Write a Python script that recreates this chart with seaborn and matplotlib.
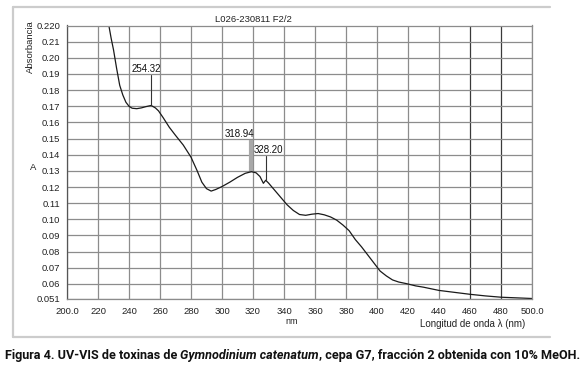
import numpy as np
import pandas as pd
import matplotlib
matplotlib.use("Agg")
import matplotlib.pyplot as plt
from matplotlib.lines import Line2D
import seaborn as sns

# Spectrum (wavelength in nm, absorbance)
wavelength = [227, 228.5, 230, 232, 234, 236, 238, 240, 242, 245, 248, 251, 254.3,
              257, 259, 262, 266, 270, 275, 280, 284, 287, 290, 293, 296, 300,
              305, 310, 315, 319, 322, 324.5, 326.7, 328.2, 330, 334, 338, 342,
              346, 350, 354, 358, 362, 366, 370, 374, 378, 382, 386, 390, 394,
              398, 402, 406, 410, 414, 419, 425, 430, 440, 450, 460, 470, 480,
              490, 500]
absorbance = [0.220, 0.212, 0.205, 0.1935, 0.183, 0.177, 0.1725, 0.170, 0.1688,
              0.1685, 0.169, 0.1698, 0.1705, 0.169, 0.1672, 0.163, 0.157, 0.152,
              0.146, 0.1385, 0.130, 0.123, 0.119, 0.1175, 0.1185, 0.1203, 0.123,
              0.126, 0.1285, 0.1295, 0.1288, 0.1265, 0.1223, 0.1242, 0.1225,
              0.118, 0.1135, 0.109, 0.1055, 0.103, 0.1025, 0.1032, 0.1036, 0.1028,
              0.1015, 0.0995, 0.0965, 0.093, 0.0875, 0.083, 0.078, 0.073, 0.068,
              0.065, 0.0625, 0.0612, 0.0602, 0.0588, 0.058, 0.056, 0.0548, 0.0536,
              0.0526, 0.0518, 0.0514, 0.051]

x_ticks = [200, 220, 240, 260, 280, 300, 320, 340, 360, 380, 400, 420, 440, 460, 480, 500]
x_labels = ["200.0", "220", "240", "260", "280", "300", "320", "340", "360", "380",
            "400", "420", "440", "460", "480", "500.0"]
y_ticks = [0.051, 0.06, 0.07, 0.08, 0.09, 0.10, 0.11, 0.12, 0.13, 0.14, 0.15,
           0.16, 0.17, 0.18, 0.19, 0.20, 0.21, 0.220]
y_labels = ["0.051", "0.06", "0.07", "0.08", "0.09", "0.10", "0.11", "0.12", "0.13",
            "0.14", "0.15", "0.16", "0.17", "0.18", "0.19", "0.20", "0.21", "0.220"]

# Peak markers: label, wavelength, text x, text bottom y, line top, line bottom
peak_labels = ["254.32", "318.94", "328.20"]
peak_x = [254.32, 318.94, 328.20]
peak_text_x = [251.0, 311.5, 330.2]
peak_text_y = [0.1900, 0.1500, 0.1400]
peak_line_top = [0.1895, 0.1490, 0.1392]
peak_line_bottom = [0.1705, 0.1300, 0.1243]

sns.set_style("white")
plt.rcParams['font.family'] = ['Liberation Sans', 'DejaVu Sans']

fig = plt.figure(figsize=(5.8, 3.67), dpi=100)
ax = fig.add_axes([67 / 580, 1 - 298.5 / 367, 465 / 580, 273 / 367])

df = pd.DataFrame({"nm": wavelength, "A": absorbance})
sns.lineplot(data=df, x="nm", y="A", ax=ax, color="#1a1a1a", linewidth=0.9)

ax.set_xlim(200, 500)
ax.set_ylim(0.051, 0.220)
ax.set_xticks(x_ticks)
ax.set_xticklabels(x_labels, fontsize=6.8, color="#222222")
ax.set_yticks(y_ticks)
ax.set_yticklabels(y_labels, fontsize=6.8, color="#222222")
ax.tick_params(axis="both", length=0)
ax.tick_params(axis="y", pad=5)
ax.tick_params(axis="x", pad=6)
ax.set_xlabel("")
ax.set_ylabel("")

ax.grid(True, color="#8c8c8c", linewidth=0.9)
for tick, gl in zip(x_ticks, ax.xaxis.get_gridlines()):
    if tick in (460, 480):
        gl.set_color("#3a3a3a")
for sp in ax.spines.values():
    sp.set_color("#8c8c8c")
    sp.set_linewidth(0.9)
ax.spines["left"].set_color("#555555")

# Peak annotations
for i, lab in enumerate(peak_labels):
    if lab == "318.94":
        ax.plot([peak_x[i], peak_x[i]], [peak_line_bottom[i], peak_line_top[i]],
                color="#a8a8a8", linewidth=3, solid_capstyle="butt", zorder=3)
    else:
        ax.plot([peak_x[i], peak_x[i]], [peak_line_bottom[i], peak_line_top[i]],
                color="#333333", linewidth=0.8, zorder=3)
    ax.text(peak_text_x[i], peak_text_y[i], lab, ha="center", va="bottom",
            fontsize=7, color="#111111", zorder=4)

ax.text(320, 1.006, "L026-230811 F2/2", transform=ax.get_xaxis_transform(),
        ha="center", va="bottom", fontsize=6.8, color="#222222")

fig.text(30 / 580, 1 - 46.7 / 367, "Absorbancia", rotation=90, ha="center",
         va="center", fontsize=6.8, color="#222222")
fig.text(33.5 / 580, 1 - 167.7 / 367, "A", ha="center", va="center",
         fontsize=6.8, color="#222222")
fig.text(291.3 / 580, 1 - 321.7 / 367, "nm", ha="center", va="center",
         fontsize=6.5, color="#222222")
fig.text(525 / 580, 1 - 324 / 367, "Longitud de onda \u03bb (nm)", ha="right",
         va="center", fontsize=7, color="#222222")

# Light frame around the chart (left, top, bottom)
frame_kw = dict(color="#cccccc", linewidth=1.6, transform=fig.transFigure)
fig.add_artist(Line2D([13 / 580, 13 / 580], [1 - 7 / 367, 1 - 337 / 367], **frame_kw))
fig.add_artist(Line2D([13 / 580, 550 / 580], [1 - 7 / 367, 1 - 7 / 367], **frame_kw))
fig.add_artist(Line2D([13 / 580, 550 / 580], [1 - 337 / 367, 1 - 337 / 367], **frame_kw))

# Caption with an italic species name, laid out piece by piece
caption_parts = ["Figura 4. UV-VIS de toxinas de ", "Gymnodinium catenatum",
                 ", cepa G7, fracci\u00f3n 2 obtenida con 10% MeOH."]
caption_style = ["normal", "italic", "normal"]
renderer = fig.canvas.get_renderer()
size = 9.0
target = 572.0
cap_family = ["Roboto", "DejaVu Sans"]
for _ in range(2):
    total = 0.0
    for txt, st in zip(caption_parts, caption_style):
        t = fig.text(0, 0, txt, fontsize=size, fontweight="bold", style=st,
                     family=cap_family)
        total += t.get_window_extent(renderer).width
        t.remove()
    size = size * target / total

x0 = 5.0
for txt, st in zip(caption_parts, caption_style):
    t = fig.text(x0 / 580, 1 - 358.5 / 367, txt, fontsize=size, fontweight="bold",
                 style=st, family=cap_family, color="#111111", va="baseline")
    x0 += t.get_window_extent(renderer).width

fig.savefig("out.png", dpi=100)
